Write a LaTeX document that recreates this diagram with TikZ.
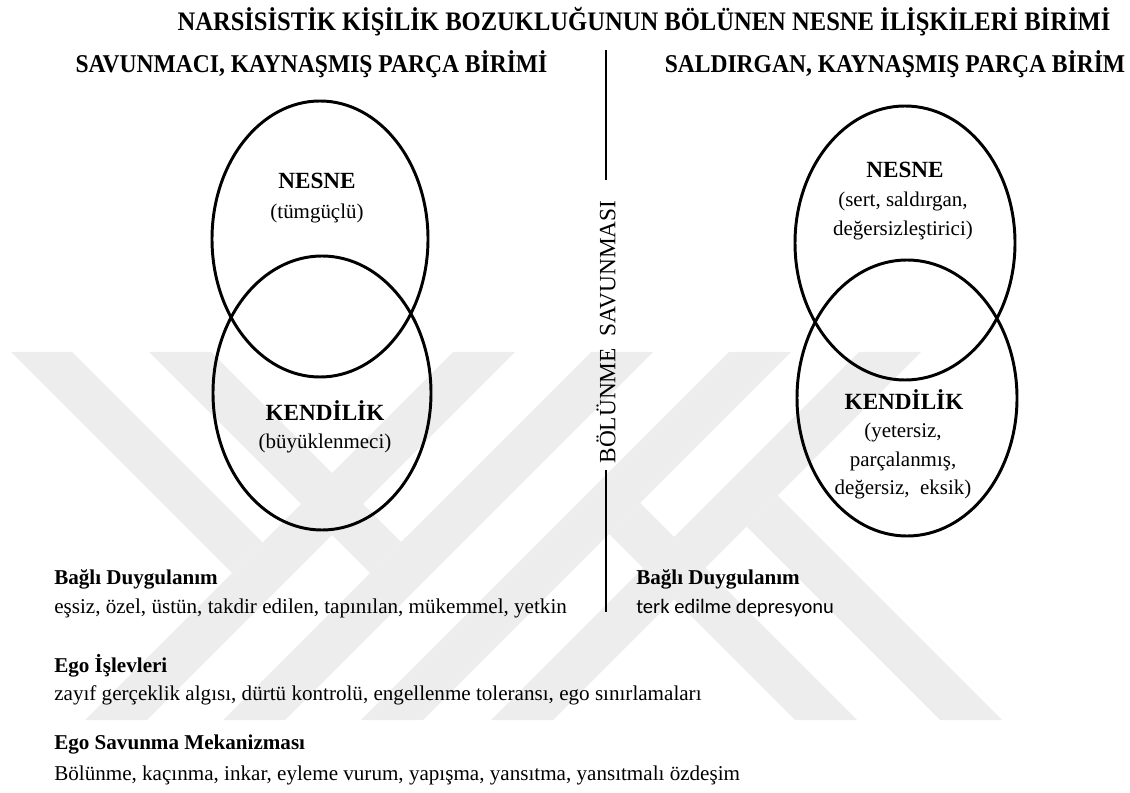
\documentclass[tikz,border=0pt]{standalone}
\usepackage{fontspec}
\setmainfont{Liberation Serif}
\newfontfamily\calfont{Carlito}
\newfontfamily\narrowfont[FakeStretch=0.92]{Liberation Serif}
\usepackage{tikz}
\usetikzlibrary{calc}
\usetikzlibrary{positioning}
\tikzset{>=latex}
\tikzstyle{wm} = [fill=black!7, draw=none]
\tikzstyle{oval} = [draw=black, line width=2.1pt]
\tikzstyle{divider} = [draw=black, line width=1.7pt]
\tikzstyle{ttl} = [draw=none, align=center, inner sep = 0, font=\narrowfont\fontsize{19}{22}\selectfont\bfseries]
\tikzstyle{unit} = [draw=none, align=center, inner sep = 0, font=\narrowfont\fontsize{18.2}{21}\selectfont\bfseries]
\tikzstyle{big} = [draw=none, align=center, inner sep = 0, font=\fontsize{16.5}{20}\selectfont\bfseries]
\tikzstyle{sub} = [draw=none, align=center, inner sep = 0, font=\fontsize{14.9}{20.6}\selectfont]
\tikzstyle{head} = [draw=none, anchor=west, inner sep = 0, font=\fontsize{15}{17}\selectfont\bfseries]
\tikzstyle{body} = [draw=none, anchor=west, inner sep = 0, font=\fontsize{15}{17}\selectfont]

\begin{document}
\begin{tikzpicture}[x=0.025cm, y=-0.025cm]
\useasboundingbox (0,0) rectangle (1130,793);
% watermark
\fill[wm] (85,720) -- (147,720) -- (515,352) -- (453,352) -- cycle;
\fill[wm] (223,720) -- (285,720) -- (653,352) -- (591,352) -- cycle;
\fill[wm] (361,720) -- (423,720) -- (791,352) -- (729,352) -- cycle;
\fill[wm] (491,720) -- (553,720) -- (921,352) -- (859,352) -- cycle;
\fill[wm] (11,352) -- (72,352) -- (262.5,542.5) -- (232,573) -- cycle;
\fill[wm] (149,352) -- (211,352) -- (401,542) -- (370,573) -- cycle;
\fill[wm] (795,720) -- (857,720) -- (640,503) -- (609,534) -- cycle;
\fill[wm] (940,720) -- (1002,720) -- (777.5,495.5) -- (746.5,526.5) -- cycle;

\node [ttl] (title) at (644, 22) {NARSİSİSTİK KİŞİLİK BOZUKLUĞUNUN BÖLÜNEN NESNE İLİŞKİLERİ BİRİMİ};
\node [unit] (defU) at (311.5, 64) {SAVUNMACI, KAYNAŞMIŞ PARÇA BİRİMİ};
\node [unit] (aggU) at (895, 64) {SALDIRGAN, KAYNAŞMIŞ PARÇA BİRİM};

% left unit
\coordinate (cNL) at (320, 239);
\coordinate (cKL) at (322, 393);
\draw [oval] (cNL) ellipse (108 and 138);
\draw [oval] (cKL) ellipse (109 and 137);
\node [big] (nesneL) at (317, 181) {NESNE};
\node [sub] (nesneLd) at (317, 213) {(tümgüçlü)};
\node [big] (kendL) at (325, 411) {KENDİLİK};
\node [sub] (kendLd) at (325, 443) {(büyüklenmeci)};

% right unit
\coordinate (cNR) at (905, 243);
\coordinate (cKR) at (907, 398);
\draw [oval] (cNR) ellipse (110 and 137);
\draw [oval] (cKR) ellipse (110 and 138);
\node [big] (nesneR) at (905, 170) {NESNE};
\node [sub] (nesneRd) at (903, 216) {(sert, saldırgan,\\değersizleştirici)};
\node [big] (kendR) at (904, 400) {KENDİLİK};
\node [sub] (kendRd) at (903, 461) {(yetersiz,\\parçalanmış,\\değersiz,\ \ eksik)};

% splitting line
\node [draw=none, rotate=90, inner sep = 0, font=\fontsize{16.6}{18}\selectfont] (split) at (606, 332) {BÖLÜNME\ \ SAVUNMASI};
\coordinate (dTop) at (606, 50);
\coordinate (dUp) at (606, 180);
\coordinate (dLow) at (606, 470);
\coordinate (dBot) at (606, 612);
\draw [divider] (dTop) -- (dUp);
\draw [divider] (dLow) -- (dBot);

% lists
\node [head] (affL) at (54, 579) {Bağlı Duygulanım};
\node [body] (affLt) at (54, 608) {eşsiz, özel, üstün, takdir edilen, tapınılan, mükemmel, yetkin};
\node [head] (affR) at (636, 579) {Bağlı Duygulanım};
\node [body, font=\fontsize{14.6}{17}\selectfont\calfont] (affRt) at (636, 608) {terk edilme depresyonu};
\node [head] (egoF) at (54, 666) {Ego İşlevleri};
\node [body] (egoFt) at (54, 695) {zayıf gerçeklik\ algısı, dürtü kontrolü, engellenme\ toleransı, ego sınırlamaları};
\node [head] (egoD) at (54, 745) {Ego Savunma Mekanizması};
\node [body] (egoDt) at (54, 775) {Bölünme, kaçınma, inkar, eyleme vurum, yapışma, yansıtma, yansıtmalı özdeşim};
\end{tikzpicture}
\end{document}
